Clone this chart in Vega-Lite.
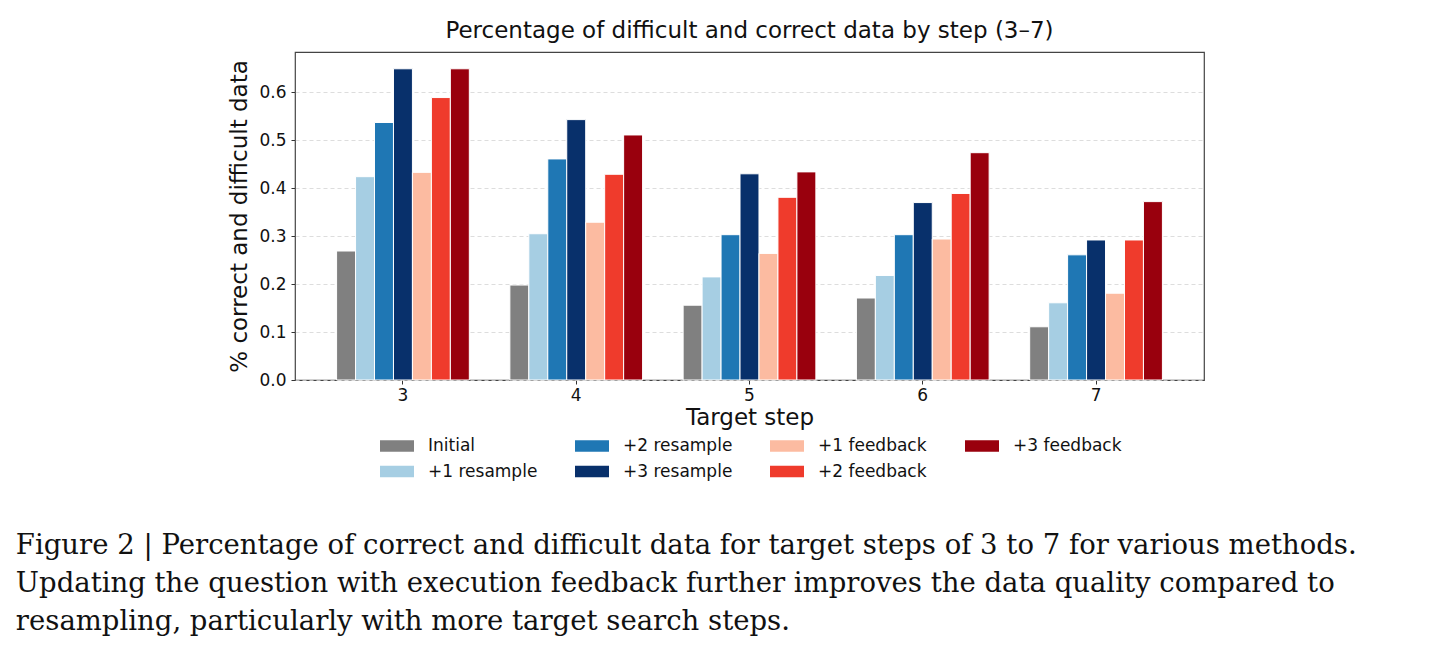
{
  "$schema": "https://vega.github.io/schema/vega-lite/v6.json",
  "background": "white",
  "padding": {"left": 15, "top": 19, "right": 5, "bottom": 5},
  "title": {
    "text": [
      "Figure 2 | Percentage of correct and difficult data for target steps of 3 to 7 for various methods.",
      "Updating the question with execution feedback further improves the data quality compared to",
      "resampling, particularly with more target search steps."
    ],
    "orient": "bottom",
    "anchor": "start",
    "font": "DejaVu Serif",
    "fontSize": 27.5,
    "fontWeight": "normal",
    "color": "#111111",
    "lineHeight": 38,
    "offset": 52,
    "dx": -212.5
  },
  "config": {
    "view": {"stroke": "#444444", "strokeWidth": 1.2},
    "font": "DejaVu Sans"
  },
  "vconcat": [
    {
      "width": 909,
      "height": 328,
      "title": {
        "text": "Percentage of difficult and correct data by step (3–7)",
        "font": "DejaVu Sans",
        "fontSize": 23,
        "fontWeight": "normal",
        "color": "#111111",
        "offset": 9
      },
      "data": {
        "values": [
          {"step": "3", "method": "Initial", "value": 0.269},
          {"step": "3", "method": "+1 resample", "value": 0.424},
          {"step": "3", "method": "+2 resample", "value": 0.537},
          {"step": "3", "method": "+3 resample", "value": 0.649},
          {"step": "3", "method": "+1 feedback", "value": 0.433},
          {"step": "3", "method": "+2 feedback", "value": 0.589},
          {"step": "3", "method": "+3 feedback", "value": 0.649},
          {"step": "4", "method": "Initial", "value": 0.198},
          {"step": "4", "method": "+1 resample", "value": 0.305},
          {"step": "4", "method": "+2 resample", "value": 0.461},
          {"step": "4", "method": "+3 resample", "value": 0.543},
          {"step": "4", "method": "+1 feedback", "value": 0.329},
          {"step": "4", "method": "+2 feedback", "value": 0.429},
          {"step": "4", "method": "+3 feedback", "value": 0.511},
          {"step": "5", "method": "Initial", "value": 0.156},
          {"step": "5", "method": "+1 resample", "value": 0.215},
          {"step": "5", "method": "+2 resample", "value": 0.303},
          {"step": "5", "method": "+3 resample", "value": 0.430},
          {"step": "5", "method": "+1 feedback", "value": 0.264},
          {"step": "5", "method": "+2 feedback", "value": 0.381},
          {"step": "5", "method": "+3 feedback", "value": 0.434},
          {"step": "6", "method": "Initial", "value": 0.171},
          {"step": "6", "method": "+1 resample", "value": 0.218},
          {"step": "6", "method": "+2 resample", "value": 0.303},
          {"step": "6", "method": "+3 resample", "value": 0.370},
          {"step": "6", "method": "+1 feedback", "value": 0.294},
          {"step": "6", "method": "+2 feedback", "value": 0.389},
          {"step": "6", "method": "+3 feedback", "value": 0.474},
          {"step": "7", "method": "Initial", "value": 0.111},
          {"step": "7", "method": "+1 resample", "value": 0.161},
          {"step": "7", "method": "+2 resample", "value": 0.261},
          {"step": "7", "method": "+3 resample", "value": 0.292},
          {"step": "7", "method": "+1 feedback", "value": 0.181},
          {"step": "7", "method": "+2 feedback", "value": 0.292},
          {"step": "7", "method": "+3 feedback", "value": 0.372}
        ]
      },
      "mark": {"type": "bar", "stroke": "white", "strokeWidth": 1},
      "encoding": {
        "x": {
          "field": "step",
          "type": "nominal",
          "sort": ["3", "4", "5", "6", "7"],
          "scale": {"paddingInner": 0.234, "paddingOuter": 0.24},
          "axis": {
            "title": "Target step",
            "titleFont": "DejaVu Sans",
            "titleFontSize": 23,
            "titleFontWeight": "normal",
            "titleColor": "#111111",
            "titlePadding": 3,
            "labelAngle": 0,
            "labelFontSize": 17,
            "labelColor": "#111111",
            "labelPadding": 3,
            "tickSize": 4,
            "tickColor": "#333333",
            "domain": false,
            "grid": false
          }
        },
        "xOffset": {
          "field": "method",
          "type": "nominal",
          "sort": ["Initial", "+1 resample", "+2 resample", "+3 resample", "+1 feedback", "+2 feedback", "+3 feedback"]
        },
        "y": {
          "field": "value",
          "type": "quantitative",
          "scale": {"domain": [0, 0.684], "nice": false, "zero": true},
          "axis": {
            "title": "% correct and difficult data",
            "titleFont": "DejaVu Sans",
            "titleFontSize": 23,
            "titleFontWeight": "normal",
            "titleColor": "#111111",
            "titlePadding": 7,
            "values": [0, 0.1, 0.2, 0.3, 0.4, 0.5, 0.6],
            "format": ".1f",
            "labelFontSize": 17,
            "labelColor": "#111111",
            "labelPadding": 5,
            "tickSize": 4,
            "tickColor": "#333333",
            "domain": false,
            "grid": true,
            "gridColor": "#d4d4d4",
            "gridDash": [4, 3],
            "gridWidth": 0.8
          }
        },
        "color": {
          "field": "method",
          "type": "nominal",
          "scale": {
            "domain": ["Initial", "+1 resample", "+2 resample", "+3 resample", "+1 feedback", "+2 feedback", "+3 feedback"],
            "range": ["#808080", "#a6cee3", "#1f77b4", "#08306b", "#fcbba1", "#ef3b2c", "#99000d"]
          },
          "legend": {
            "title": null,
            "orient": "none",
            "legendX": 85,
            "legendY": 377,
            "columns": 4,
            "gridAlign": "all",
            "columnPadding": 37,
            "rowPadding": 0.5,
            "symbolType": "M-1,-0.34H1V0.34H-1Z",
            "symbolSize": 1156,
            "symbolStrokeWidth": 0,
            "labelFont": "DejaVu Sans",
            "labelFontSize": 17,
            "labelColor": "#111111",
            "labelOffset": 14
          }
        }
      }
    }
  ]
}
